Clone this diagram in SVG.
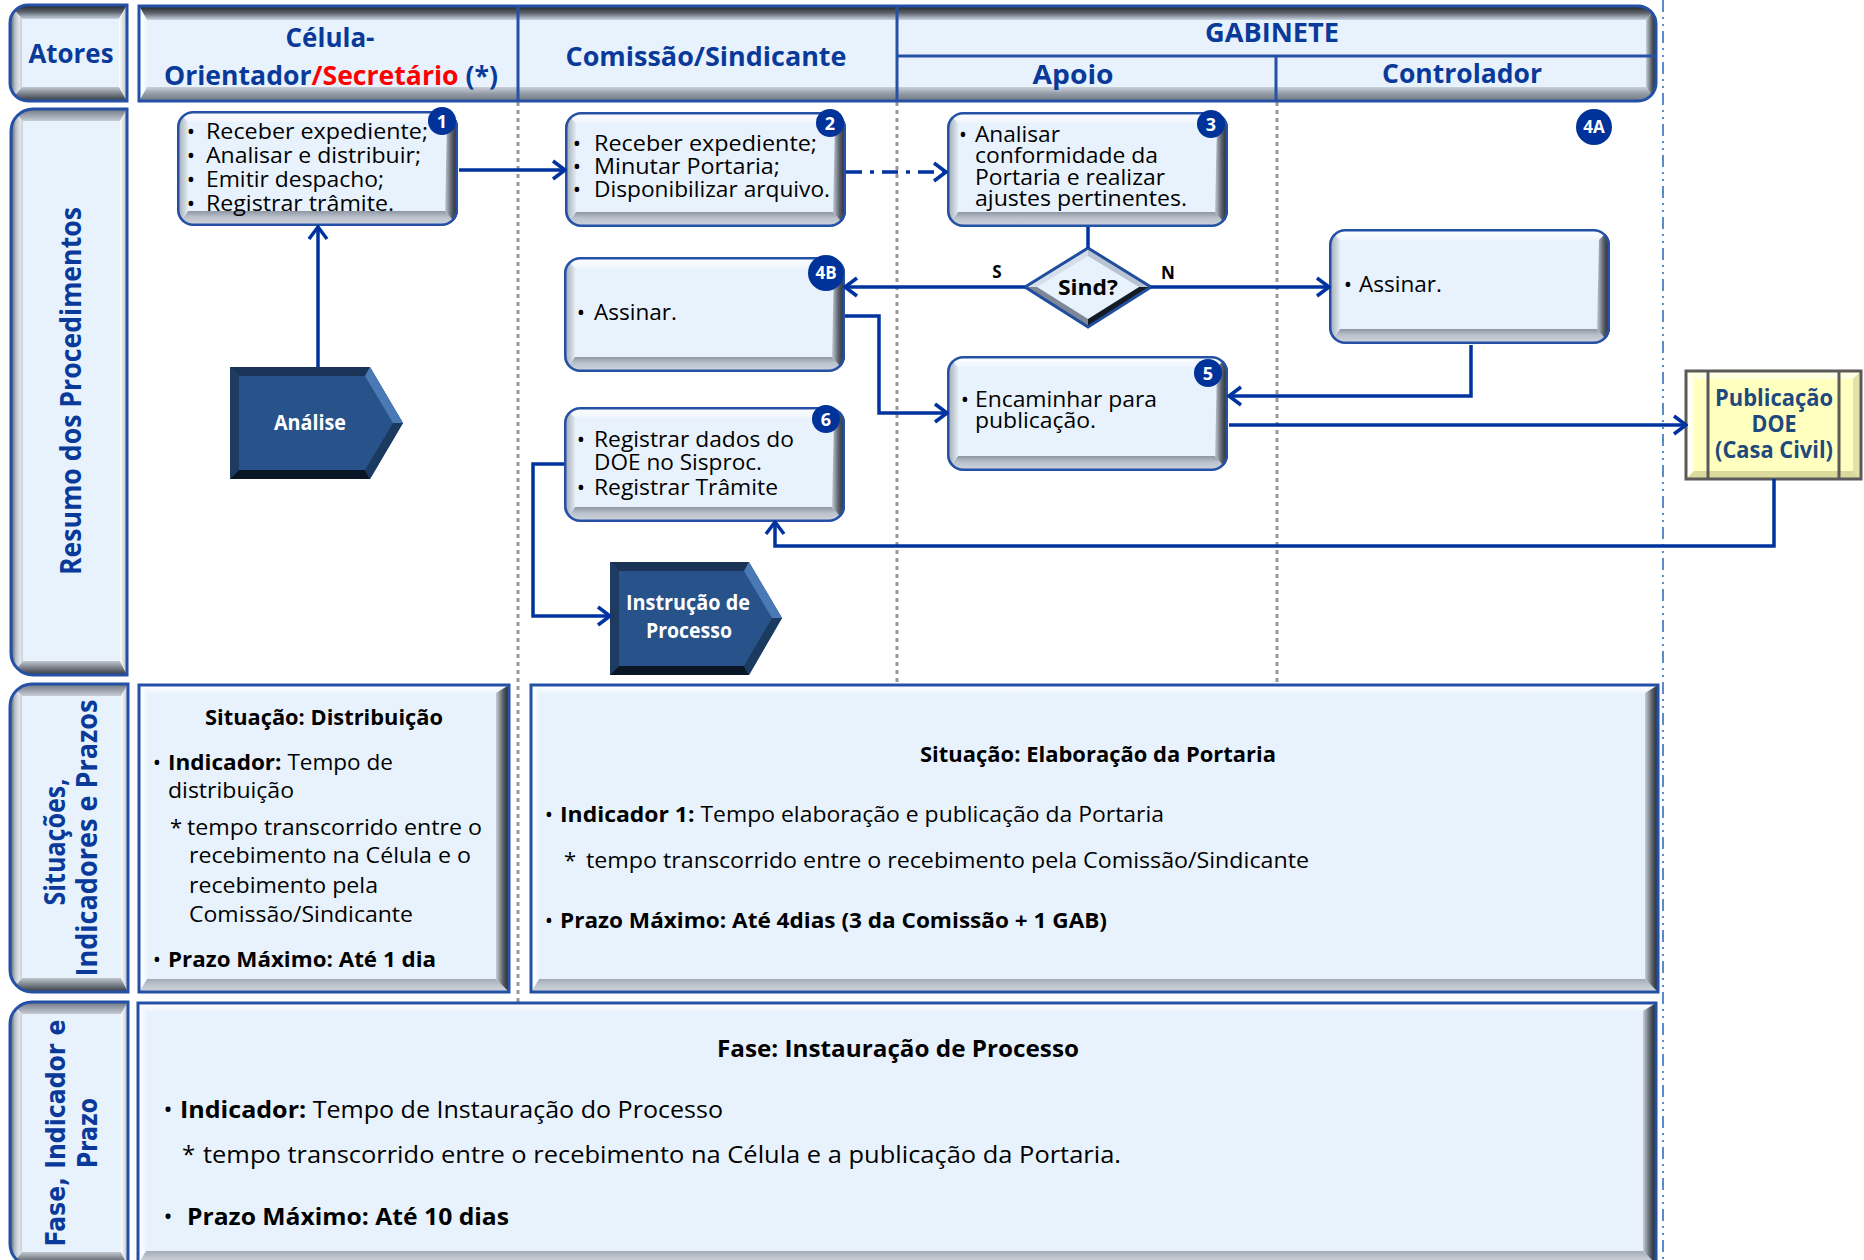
<svg xmlns="http://www.w3.org/2000/svg" xmlns:xlink="http://www.w3.org/1999/xlink" width="1864" height="1260" viewBox="0 0 1864 1260">
<style>
  text { font-family: 'Open Sans', 'Noto Sans', 'Liberation Sans', sans-serif; }
  .hd { font-weight: 700; fill: #0A3A99; font-size: 27px; }
  .side { font-weight: 700; fill: #0A3A99; font-size: 28px; }
  .sideW { font-family: 'DejaVu Sans', 'Liberation Sans', sans-serif; font-weight: 700; fill: #0A3A99; font-size: 26px; }
  .bx { font-size: 22px; fill: #000; }
  .bx3 { font-size: 21px; fill: #000; }
  .pn { font-size: 22px; fill: #000; }
  .fz { font-size: 24px; fill: #000; }
  .b { font-weight: 700; }
  .wt { font-weight: 700; fill: #fff; font-size: 21px; }
  .bdg { fill: #00339A; }
  .bdgt { font-weight: 700; fill: #fff; font-size: 18px; }
  .bdgs { font-weight: 700; fill: #fff; font-size: 17px; }
  .cn { fill: none; stroke: #0033A0; stroke-width: 3.5; stroke-linejoin: miter; }
  .lane { stroke: #9A9A9A; stroke-width: 3; stroke-dasharray: 4 4; }
  .edge { fill: none; stroke: #2451A5; stroke-width: 3; }
</style>
<defs>
  <marker id="ah" viewBox="0 0 16 22" refX="14" refY="11" markerWidth="16" markerHeight="22" markerUnits="userSpaceOnUse" orient="auto">
    <path d="M2,2 L14,11 L2,20" fill="none" stroke="#0033A0" stroke-width="3.5"/>
  </marker>
  <!-- process box bevel -->
  <linearGradient id="gTopW" x1="0" y1="0" x2="0" y2="1"><stop offset="0" stop-color="#FFFFFF"/><stop offset="1" stop-color="#EEF5FD"/></linearGradient>
  <linearGradient id="gBot" x1="0" y1="0" x2="0" y2="1"><stop offset="0" stop-color="#8E96A2"/><stop offset="0.4" stop-color="#BAC1CB"/><stop offset="1" stop-color="#D3D8DF"/></linearGradient>
  <linearGradient id="gRight" x1="0" y1="0" x2="1" y2="0"><stop offset="0" stop-color="#C3CAD3"/><stop offset="0.5" stop-color="#5B626B"/><stop offset="1" stop-color="#1B1F25"/></linearGradient>
  <linearGradient id="gLeft" x1="0" y1="0" x2="1" y2="0"><stop offset="0" stop-color="#9AA2AD"/><stop offset="1" stop-color="#E2EAF3"/></linearGradient>
  <!-- side label bevel -->
  <linearGradient id="gSLl" x1="0" y1="0" x2="1" y2="0"><stop offset="0" stop-color="#4E5660"/><stop offset="0.4" stop-color="#B5BCC4"/><stop offset="0.75" stop-color="#E0E5EA"/><stop offset="1" stop-color="#C9D0D8"/></linearGradient>
  <linearGradient id="gSLt" x1="0" y1="0" x2="0" y2="1"><stop offset="0" stop-color="#6E7680"/><stop offset="1" stop-color="#C6CCD4"/></linearGradient>
  <linearGradient id="gSLb" x1="0" y1="0" x2="0" y2="1"><stop offset="0" stop-color="#C0C7CF"/><stop offset="1" stop-color="#30363E"/></linearGradient>
  <linearGradient id="gSLr" x1="0" y1="0" x2="1" y2="0"><stop offset="0" stop-color="#FFFFFF"/><stop offset="1" stop-color="#B8C0C9"/></linearGradient>
  <!-- header bevel -->
  <linearGradient id="gHdT" x1="0" y1="0" x2="0" y2="1"><stop offset="0" stop-color="#1E2226"/><stop offset="0.5" stop-color="#5C636B"/><stop offset="1" stop-color="#C8D4E4"/></linearGradient>
  <linearGradient id="gHdB" x1="0" y1="0" x2="0" y2="1"><stop offset="0" stop-color="#C9D0D8"/><stop offset="0.5" stop-color="#9199A4"/><stop offset="1" stop-color="#6F7781"/></linearGradient>
  <!-- panel bevel -->
  <linearGradient id="gPT" x1="0" y1="0" x2="0" y2="1"><stop offset="0" stop-color="#FFFFFF"/><stop offset="1" stop-color="#EEF5FD"/></linearGradient>
  <linearGradient id="gPL" x1="0" y1="0" x2="1" y2="0"><stop offset="0" stop-color="#FFFFFF"/><stop offset="1" stop-color="#EEF5FD"/></linearGradient>
  <linearGradient id="gPR" x1="0" y1="0" x2="1" y2="0"><stop offset="0" stop-color="#C7CED7"/><stop offset="0.6" stop-color="#50575F"/><stop offset="1" stop-color="#23272D"/></linearGradient>
  <linearGradient id="gPB" x1="0" y1="0" x2="0" y2="1"><stop offset="0" stop-color="#A2AAB5"/><stop offset="0.5" stop-color="#BFC6CF"/><stop offset="1" stop-color="#CFD5DC"/></linearGradient>

  <clipPath id="cpBox"><rect width="281" height="115" rx="16"/></clipPath>
  <g id="box">
    <g clip-path="url(#cpBox)">
      <rect width="281" height="115" fill="#E8F2FD"/>
      <polygon points="0,0 281,0 270,11 11,11" fill="url(#gTopW)"/>
      <polygon points="0,115 281,115 268,100 11,100" fill="url(#gBot)"/>
      <polygon points="281,0 281,115 268,100 270,11" fill="url(#gRight)"/>
      <polygon points="0,0 11,11 11,100 0,115" fill="url(#gLeft)"/>
    </g>
    <rect x="1.25" y="1.25" width="278.5" height="112.5" rx="15" fill="none" stroke="#2451A5" stroke-width="2.5"/>
  </g>

  <clipPath id="cpAtores"><path d="M28,5 H127 V101 H28 A18,18 0 0 1 10,83 V23 A18,18 0 0 1 28,5 Z"/></clipPath>
  <clipPath id="cpHead"><path d="M139,6 H1638 A18,18 0 0 1 1656,24 V83 A18,18 0 0 1 1638,101 H139 Z"/></clipPath>
  <clipPath id="cpRes"><path d="M33,109 H127 V675 H33 A22,22 0 0 1 11,653 V131 A22,22 0 0 1 33,109 Z"/></clipPath>
  <clipPath id="cpSit"><path d="M32,684 H128 V992 H32 A22,22 0 0 1 10,970 V706 A22,22 0 0 1 32,684 Z"/></clipPath>
  <clipPath id="cpFase"><path d="M32,1002 H128 V1266 H32 A22,22 0 0 1 10,1244 V1024 A22,22 0 0 1 32,1002 Z"/></clipPath>
</defs>

<rect width="1864" height="1260" fill="#FFFFFF"/>

<!-- swimlane separators -->
<g id="lanes">
  <line class="lane" x1="518" y1="102" x2="518" y2="1003"/>
  <line class="lane" x1="897" y1="102" x2="897" y2="686"/>
  <line class="lane" x1="1277" y1="102" x2="1277" y2="686"/>
  <line x1="1663" y1="0" x2="1663" y2="1260" stroke="#5B8BCB" stroke-width="2" stroke-dasharray="12 5 2 5 2 5"/>
</g>

<!-- header row -->
<g id="atores">
  <g clip-path="url(#cpAtores)">
    <rect x="10" y="5" width="117" height="96" fill="#E8F2FD"/>
    <polygon points="10,5 127,5 119,19 22,19" fill="url(#gHdT)"/>
    <polygon points="10,101 127,101 119,87 22,87" fill="url(#gSLb)"/>
    <polygon points="10,5 22,19 22,87 10,101" fill="url(#gSLl)"/>
    <polygon points="127,5 127,101 119,87 119,19" fill="url(#gSLr)"/>
  </g>
  <path class="edge" d="M28,5 H127 V101 H28 A18,18 0 0 1 10,83 V23 A18,18 0 0 1 28,5 Z"/>
  <text class="hd" x="71" y="63" text-anchor="middle" textLength="85" lengthAdjust="spacingAndGlyphs">Atores</text>
</g>

<g id="header">
  <g clip-path="url(#cpHead)">
    <rect x="139" y="6" width="1517" height="95" fill="#E8F2FD"/>
    <polygon points="139,6 1656,6 1646,20 147,20" fill="url(#gHdT)"/>
    <polygon points="139,101 1656,101 1646,87 147,87" fill="url(#gHdB)"/>
    <polygon points="139,6 147,20 147,87 139,101" fill="url(#gPL)"/>
    <polygon points="1656,6 1656,101 1646,87 1646,20" fill="url(#gPR)"/>
  </g>
  <path class="edge" d="M139,6 H1638 A18,18 0 0 1 1656,24 V83 A18,18 0 0 1 1638,101 H139 Z"/>
  <line x1="518" y1="6" x2="518" y2="101" stroke="#2451A5" stroke-width="3"/>
  <line x1="897" y1="6" x2="897" y2="101" stroke="#2451A5" stroke-width="3"/>
  <line x1="897" y1="56" x2="1656" y2="56" stroke="#2451A5" stroke-width="3"/>
  <line x1="1276" y1="56" x2="1276" y2="101" stroke="#2451A5" stroke-width="3"/>
  <text class="hd" x="330" y="47" text-anchor="middle" textLength="89" lengthAdjust="spacingAndGlyphs">Célula-</text>
  <text class="hd" x="164" y="85" textLength="334" lengthAdjust="spacingAndGlyphs">Orientador<tspan fill="#FF0000">/Secretário</tspan> (*)</text>
  <text class="hd" x="706" y="66" text-anchor="middle" textLength="281" lengthAdjust="spacingAndGlyphs">Comissão/Sindicante</text>
  <text class="hd" x="1272" y="42" text-anchor="middle" textLength="134" lengthAdjust="spacingAndGlyphs">GABINETE</text>
  <text class="hd" x="1073" y="84" text-anchor="middle" textLength="81" lengthAdjust="spacingAndGlyphs">Apoio</text>
  <text class="hd" x="1462" y="83" text-anchor="middle" textLength="160" lengthAdjust="spacingAndGlyphs">Controlador</text>
</g>

<!-- row labels -->
<g id="lbl-resumo">
  <g clip-path="url(#cpRes)">
    <rect x="11" y="109" width="116" height="566" fill="#E8F2FD"/>
    <polygon points="11,109 127,109 120,121 23,121" fill="url(#gSLt)"/>
    <polygon points="11,675 127,675 120,661 23,661" fill="url(#gSLb)"/>
    <polygon points="11,109 23,121 23,661 11,675" fill="url(#gSLl)"/>
    <polygon points="127,109 127,675 120,661 120,121" fill="url(#gSLr)"/>
  </g>
  <path class="edge" d="M33,109 H127 V675 H33 A22,22 0 0 1 11,653 V131 A22,22 0 0 1 33,109 Z"/>
  <text class="side" transform="translate(81,391) rotate(-90)" text-anchor="middle" textLength="368" lengthAdjust="spacingAndGlyphs">Resumo dos Procedimentos</text>
</g>

<g id="lbl-situacoes">
  <g clip-path="url(#cpSit)">
    <rect x="10" y="684" width="118" height="308" fill="#E8F2FD"/>
    <polygon points="10,684 128,684 121,696 22,696" fill="url(#gSLt)"/>
    <polygon points="10,992 128,992 121,978 22,978" fill="url(#gSLb)"/>
    <polygon points="10,684 22,696 22,978 10,992" fill="url(#gSLl)"/>
    <polygon points="128,684 128,992 121,978 121,696" fill="url(#gSLr)"/>
  </g>
  <path class="edge" d="M32,684 H128 V992 H32 A22,22 0 0 1 10,970 V706 A22,22 0 0 1 32,684 Z"/>
  <text class="side" transform="translate(65,842) rotate(-90)" text-anchor="middle" textLength="127" lengthAdjust="spacingAndGlyphs">Situações,</text>
  <text class="side" transform="translate(97,838) rotate(-90)" text-anchor="middle" textLength="277" lengthAdjust="spacingAndGlyphs">Indicadores  e Prazos</text>
</g>

<g id="lbl-fase">
  <g clip-path="url(#cpFase)">
    <rect x="10" y="1002" width="118" height="264" fill="#E8F2FD"/>
    <polygon points="10,1002 128,1002 121,1014 22,1014" fill="url(#gSLt)"/>
    <polygon points="10,1266 128,1266 121,1252 22,1252" fill="url(#gSLb)"/>
    <polygon points="10,1002 22,1014 22,1252 10,1266" fill="url(#gSLl)"/>
    <polygon points="128,1002 128,1266 121,1252 121,1014" fill="url(#gSLr)"/>
  </g>
  <path class="edge" d="M32,1002 H128 V1266 H32 A22,22 0 0 1 10,1244 V1024 A22,22 0 0 1 32,1002 Z"/>
  <text class="sideW" transform="translate(65,1133) rotate(-90)" text-anchor="middle" textLength="227" lengthAdjust="spacingAndGlyphs">Fase, Indicador  e</text>
  <text class="sideW" transform="translate(97,1133) rotate(-90)" text-anchor="middle" textLength="70" lengthAdjust="spacingAndGlyphs">Prazo</text>
</g>

<!-- indicator panels -->
<g id="panel-distribuicao">
  <rect x="139" y="685" width="370" height="307" fill="#E8F2FD"/>
  <polygon points="139,685 509,685 496,693 147,693" fill="url(#gPT)"/>
  <polygon points="139,992 509,992 496,979 147,979" fill="url(#gPB)"/>
  <polygon points="139,685 147,693 147,979 139,992" fill="url(#gPL)"/>
  <polygon points="509,685 509,992 496,979 496,693" fill="url(#gPR)"/>
  <rect class="edge" x="139" y="685" width="370" height="307"/>
  <text class="pn b" x="324" y="725" text-anchor="middle" textLength="238" lengthAdjust="spacingAndGlyphs">Situação: Distribuição</text>
  <text class="pn" x="157" y="770" text-anchor="middle">•</text>
  <text class="pn" x="168" y="770" textLength="225" lengthAdjust="spacingAndGlyphs"><tspan class="b">Indicador:</tspan> Tempo de</text>
  <text class="pn" x="168" y="798" textLength="126" lengthAdjust="spacingAndGlyphs">distribuição</text>
  <text class="pn" x="170" y="835">*</text>
  <text class="pn" x="187" y="835" textLength="295" lengthAdjust="spacingAndGlyphs">tempo transcorrido entre o</text>
  <text class="pn" x="189" y="863" textLength="282" lengthAdjust="spacingAndGlyphs">recebimento na Célula e o</text>
  <text class="pn" x="189" y="893" textLength="189" lengthAdjust="spacingAndGlyphs">recebimento pela</text>
  <text class="pn" x="189" y="922" textLength="224" lengthAdjust="spacingAndGlyphs">Comissão/Sindicante</text>
  <text class="pn" x="157" y="967" text-anchor="middle">•</text>
  <text class="pn b" x="168" y="967" textLength="268" lengthAdjust="spacingAndGlyphs">Prazo Máximo: Até 1 dia</text>
</g>

<g id="panel-elaboracao">
  <rect x="531" y="685" width="1127" height="307" fill="#E8F2FD"/>
  <polygon points="531,685 1658,685 1645,693 539,693" fill="url(#gPT)"/>
  <polygon points="531,992 1658,992 1645,979 539,979" fill="url(#gPB)"/>
  <polygon points="531,685 539,693 539,979 531,992" fill="url(#gPL)"/>
  <polygon points="1658,685 1658,992 1645,979 1645,693" fill="url(#gPR)"/>
  <rect class="edge" x="531" y="685" width="1127" height="307"/>
  <text class="pn b" x="1098" y="762" text-anchor="middle" textLength="356" lengthAdjust="spacingAndGlyphs">Situação: Elaboração da Portaria</text>
  <text class="pn" x="549" y="822" text-anchor="middle">•</text>
  <text class="pn" x="560" y="822" textLength="604" lengthAdjust="spacingAndGlyphs"><tspan class="b">Indicador 1:</tspan> Tempo elaboração e publicação da Portaria</text>
  <text class="pn" x="564" y="868">*</text>
  <text class="pn" x="586" y="868" textLength="723" lengthAdjust="spacingAndGlyphs">tempo transcorrido entre o recebimento pela Comissão/Sindicante</text>
  <text class="pn" x="549" y="928" text-anchor="middle">•</text>
  <text class="pn b" x="560" y="928" textLength="547" lengthAdjust="spacingAndGlyphs">Prazo Máximo: Até 4dias (3 da Comissão + 1 GAB)</text>
</g>

<g id="panel-fase">
  <rect x="138" y="1003" width="1518" height="261" fill="#E8F2FD"/>
  <polygon points="138,1003 1656,1003 1643,1011 146,1011" fill="url(#gPT)"/>
  <polygon points="138,1264 1656,1264 1643,1251 146,1251" fill="url(#gPB)"/>
  <polygon points="138,1003 146,1011 146,1251 138,1264" fill="url(#gPL)"/>
  <polygon points="1656,1003 1656,1264 1643,1251 1643,1011" fill="url(#gPR)"/>
  <rect class="edge" x="138" y="1003" width="1518" height="261"/>
  <text class="fz b" x="898" y="1057" text-anchor="middle" textLength="362" lengthAdjust="spacingAndGlyphs">Fase: Instauração de Processo</text>
  <text class="fz" x="168" y="1118" text-anchor="middle">•</text>
  <text class="fz" x="180" y="1118" textLength="543" lengthAdjust="spacingAndGlyphs"><tspan class="b">Indicador:</tspan> Tempo de Instauração do Processo</text>
  <text class="fz" x="182" y="1163">*</text>
  <text class="fz" x="203" y="1163" textLength="918" lengthAdjust="spacingAndGlyphs">tempo transcorrido entre o recebimento na Célula e a publicação da Portaria.</text>
  <text class="fz" x="168" y="1225" text-anchor="middle">•</text>
  <text class="fz b" x="187" y="1225" textLength="322" lengthAdjust="spacingAndGlyphs">Prazo Máximo: Até 10 dias</text>
</g>

<!-- process steps -->
<g id="step1">
  <use href="#box" x="177" y="111"/>
  <text class="bx" x="191" y="139" text-anchor="middle">•</text>
  <text class="bx" x="191" y="163" text-anchor="middle">•</text>
  <text class="bx" x="191" y="187" text-anchor="middle">•</text>
  <text class="bx" x="191" y="211" text-anchor="middle">•</text>
  <text class="bx" x="206" y="139" textLength="222" lengthAdjust="spacingAndGlyphs">Receber expediente;</text>
  <text class="bx" x="206" y="163" textLength="215" lengthAdjust="spacingAndGlyphs">Analisar e distribuir;</text>
  <text class="bx" x="206" y="187" textLength="178" lengthAdjust="spacingAndGlyphs">Emitir despacho;</text>
  <text class="bx" x="206" y="211" textLength="188" lengthAdjust="spacingAndGlyphs">Registrar trâmite.</text>
  <circle class="bdg" cx="442" cy="121" r="14"/>
  <text class="bdgt" x="442" y="127.5" text-anchor="middle">1</text>
</g>

<g id="step2">
  <use href="#box" x="565" y="112"/>
  <text class="bx" x="577" y="151" text-anchor="middle">•</text>
  <text class="bx" x="577" y="174" text-anchor="middle">•</text>
  <text class="bx" x="577" y="197" text-anchor="middle">•</text>
  <text class="bx" x="594" y="151" textLength="223" lengthAdjust="spacingAndGlyphs">Receber expediente;</text>
  <text class="bx" x="594" y="174" textLength="186" lengthAdjust="spacingAndGlyphs">Minutar Portaria;</text>
  <text class="bx" x="594" y="197" textLength="236" lengthAdjust="spacingAndGlyphs">Disponibilizar arquivo.</text>
  <circle class="bdg" cx="830" cy="123" r="14"/>
  <text class="bdgt" x="830" y="129.5" text-anchor="middle">2</text>
</g>

<g id="step3">
  <use href="#box" x="947" y="112"/>
  <text class="bx3" x="963" y="142" text-anchor="middle">•</text>
  <text class="bx3" x="975" y="142" textLength="85" lengthAdjust="spacingAndGlyphs">Analisar</text>
  <text class="bx3" x="975" y="163" textLength="183" lengthAdjust="spacingAndGlyphs">conformidade da</text>
  <text class="bx3" x="975" y="185" textLength="190" lengthAdjust="spacingAndGlyphs">Portaria e realizar</text>
  <text class="bx3" x="975" y="206" textLength="212" lengthAdjust="spacingAndGlyphs">ajustes pertinentes.</text>
  <circle class="bdg" cx="1211" cy="124" r="14"/>
  <text class="bdgt" x="1211" y="130.5" text-anchor="middle">3</text>
</g>

<g id="step4a">
  <circle class="bdg" cx="1594" cy="127" r="18"/>
  <text class="bdgs" x="1594" y="133" text-anchor="middle">4A</text>
</g>

<g id="decision">
  <polygon points="1025,287 1088,248 1151,287 1088,327" fill="#E8F2FD"/>
  <polygon points="1025,287 1088,248 1088,256 1037,287" fill="#D5DEEA"/>
  <polygon points="1088,248 1151,287 1139,287 1088,256" fill="#B9C4D2"/>
  <polygon points="1151,287 1088,327 1088,319 1139,287" fill="#151B25"/>
  <polygon points="1088,327 1025,287 1037,287 1088,319" fill="#7D8795"/>
  <polygon points="1025,287 1088,248 1151,287 1088,327" fill="none" stroke="#1F4E9E" stroke-width="3"/>
  <text class="b" x="1088" y="295" text-anchor="middle" font-size="22" textLength="60" lengthAdjust="spacingAndGlyphs">Sind?</text>
</g>

<g id="step4b">
  <use href="#box" x="564" y="257"/>
  <text class="bx" x="581" y="320" text-anchor="middle">•</text>
  <text class="bx" x="594" y="320" textLength="83" lengthAdjust="spacingAndGlyphs">Assinar.</text>
  <circle class="bdg" cx="826" cy="273" r="18"/>
  <text class="bdgs" x="826" y="279" text-anchor="middle">4B</text>
</g>

<g id="step-controlador">
  <use href="#box" x="1329" y="229"/>
  <text class="bx" x="1348" y="292" text-anchor="middle">•</text>
  <text class="bx" x="1359" y="292" textLength="83" lengthAdjust="spacingAndGlyphs">Assinar.</text>
</g>

<g id="step5">
  <use href="#box" x="947" y="356"/>
  <text class="bx" x="965" y="407" text-anchor="middle">•</text>
  <text class="bx" x="975" y="407" textLength="182" lengthAdjust="spacingAndGlyphs">Encaminhar para</text>
  <text class="bx" x="975" y="428" textLength="121" lengthAdjust="spacingAndGlyphs">publicação.</text>
  <circle class="bdg" cx="1208" cy="373" r="14"/>
  <text class="bdgt" x="1208" y="379.5" text-anchor="middle">5</text>
</g>

<g id="step6">
  <use href="#box" x="564" y="407"/>
  <text class="bx" x="581" y="447" text-anchor="middle">•</text>
  <text class="bx" x="581" y="495" text-anchor="middle">•</text>
  <text class="bx" x="594" y="447" textLength="200" lengthAdjust="spacingAndGlyphs">Registrar dados do</text>
  <text class="bx" x="594" y="470" textLength="168" lengthAdjust="spacingAndGlyphs">DOE no Sisproc.</text>
  <text class="bx" x="594" y="495" textLength="184" lengthAdjust="spacingAndGlyphs">Registrar Trâmite</text>
  <circle class="bdg" cx="826" cy="419" r="14"/>
  <text class="bdgt" x="826" y="425.5" text-anchor="middle">6</text>
</g>

<g id="phase-analise">
  <polygon points="230,367 370,367 403,423 370,479 230,479" fill="#27528A"/>
  <polygon points="230,367 370,367 365,376 239,376" fill="#1A3356"/>
  <polygon points="230,367 239,376 239,470 230,479" fill="#1E3C62"/>
  <polygon points="230,479 370,479 365,470 239,470" fill="#0A1626"/>
  <polygon points="370,367 403,423 393,423 365,376" fill="#4A7AB5"/>
  <polygon points="403,423 370,479 365,470 393,423" fill="#1B3A60"/>
  <text class="wt" x="310" y="430" text-anchor="middle" textLength="72" lengthAdjust="spacingAndGlyphs">Análise</text>
</g>

<g id="phase-instrucao">
  <polygon points="610,562 749,562 782,618 749,675 610,675" fill="#27528A"/>
  <polygon points="610,562 749,562 744,571 619,571" fill="#1A3356"/>
  <polygon points="610,562 619,571 619,666 610,675" fill="#1E3C62"/>
  <polygon points="610,675 749,675 744,666 619,666" fill="#0A1626"/>
  <polygon points="749,562 782,618 772,618 744,571" fill="#4A7AB5"/>
  <polygon points="782,618 749,675 744,666 772,618" fill="#1B3A60"/>
  <text class="wt" x="688" y="610" text-anchor="middle" textLength="124" lengthAdjust="spacingAndGlyphs">Instrução de</text>
  <text class="wt" x="689" y="638" text-anchor="middle" textLength="86" lengthAdjust="spacingAndGlyphs">Processo</text>
</g>

<g id="publicacao">
  <rect x="1686" y="371" width="175" height="108" fill="#FFFFC0"/>
  <polygon points="1686,371 1861,371 1853,379 1694,379" fill="#FFFFE4"/>
  <polygon points="1686,371 1694,379 1694,471 1686,479" fill="#FFFFF2"/>
  <polygon points="1861,371 1861,479 1853,471 1853,379" fill="#E2E2A8"/>
  <polygon points="1686,479 1861,479 1853,471 1694,471" fill="#DADA9C"/>
  <rect x="1686" y="371" width="175" height="108" fill="none" stroke="#5A5A5A" stroke-width="3"/>
  <line x1="1708" y1="371" x2="1708" y2="479" stroke="#5A5A5A" stroke-width="3"/>
  <line x1="1839" y1="371" x2="1839" y2="479" stroke="#5A5A5A" stroke-width="3"/>
  <text x="1774" y="406" text-anchor="middle" font-weight="700" font-size="23" fill="#1F497D" textLength="118" lengthAdjust="spacingAndGlyphs">Publicação</text>
  <text x="1774" y="432" text-anchor="middle" font-weight="700" font-size="23" fill="#1F497D" textLength="45" lengthAdjust="spacingAndGlyphs">DOE</text>
  <text x="1774" y="458" text-anchor="middle" font-weight="700" font-size="23" fill="#1F497D" textLength="118" lengthAdjust="spacingAndGlyphs">(Casa Civil)</text>
</g>

<!-- connectors -->
<g id="connectors">
  <path class="cn" d="M459,170 H565" marker-end="url(#ah)"/>
  <path class="cn" d="M846,172 H946" stroke-dasharray="16 8 4 8" marker-end="url(#ah)"/>
  <path class="cn" d="M1088,227 V248"/>
  <path class="cn" d="M1025,287 H845" marker-end="url(#ah)"/>
  <path class="cn" d="M1151,287 H1329" marker-end="url(#ah)"/>
  <path class="cn" d="M845,316 H879 V413 H947" marker-end="url(#ah)"/>
  <path class="cn" d="M1471,345 V396 H1229" marker-end="url(#ah)"/>
  <path class="cn" d="M1229,425 H1686" marker-end="url(#ah)"/>
  <path class="cn" d="M1774,479 V546 H775 V522" marker-end="url(#ah)"/>
  <path class="cn" d="M564,464 H533 V616 H610" marker-end="url(#ah)"/>
  <path class="cn" d="M318,367 V227" marker-end="url(#ah)"/>
  <text class="b" x="997" y="278" text-anchor="middle" font-size="17">S</text>
  <text class="b" x="1168" y="279" text-anchor="middle" font-size="17">N</text>
</g>
</svg>
